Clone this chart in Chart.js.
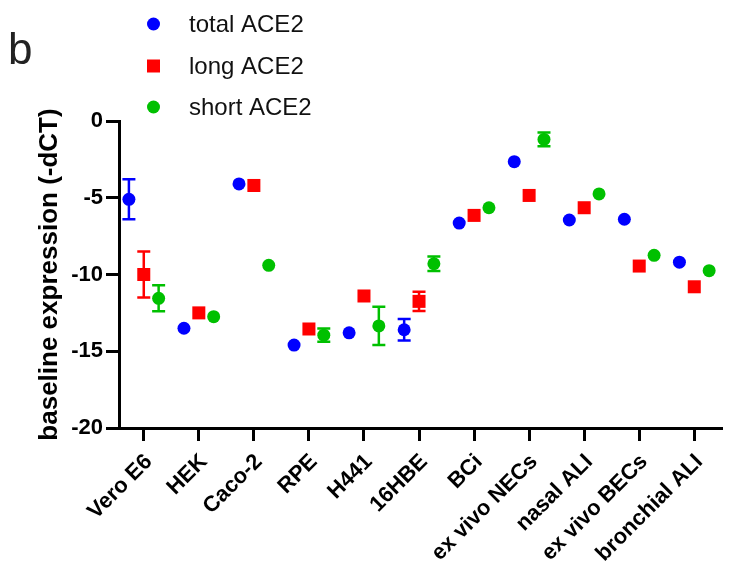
<!DOCTYPE html>
<html><head><meta charset="utf-8">
<script src="https://cdn.jsdelivr.net/npm/chart.js@4"></script>
<style>html,body{margin:0;padding:0;background:#fff;}</style>
</head><body>
<canvas id="c" width="731" height="574"></canvas>
<script>
const categories = ['Vero E6','HEK','Caco-2','RPE','H441','16HBE','BCi','ex vivo NECs','nasal ALI','ex vivo BECs','bronchial ALI'];
const seriesNames = ['total ACE2','long ACE2','short ACE2'];
const totalACE2 = [-5.1,-13.5,-4.1,-14.6,-13.8,-13.6,-6.65,-2.65,-6.45,-6.4,-9.2];
const totalErr  = [1.3,0,0,0,0,0.7,0,0,0,0,0];
const longACE2  = [-10.0,-12.5,-4.2,-13.55,-11.4,-11.75,-6.15,-4.85,-5.65,-9.45,-10.8];
const longErr   = [1.5,0,0,0,0,0.62,0,0,0,0,0];
const shortACE2 = [-11.55,-12.75,-9.4,-13.95,-13.35,-9.3,-5.65,-1.2,-4.75,-8.75,-9.75];
const shortErr  = [0.85,0,0,0.43,1.25,0.48,0,0.45,0,0,0];
const yTicks = [0,-5,-10,-15,-20];

const colors = ['#0000ff','#ff0000','#00c000'];
const shapes = ['circle','rect','circle'];
const radii = [6.5,9.2,6.5];
const dodge = [-0.27,0,0.27];
const values = [totalACE2,longACE2,shortACE2];
const errs = [totalErr,longErr,shortErr];

const datasets = values.map((vals,s)=>({
  label: seriesNames[s],
  data: vals.map((v,i)=>({x:i+dodge[s], y:v, e:errs[s][i]})),
  showLine:false,
  pointStyle: shapes[s],
  pointRadius: radii[s],
  pointHoverRadius: radii[s],
  backgroundColor: colors[s],
  borderColor: colors[s],
  borderWidth: 0,
  clip:false
}));

const errorBars = {
  id:'errorBars',
  beforeDatasetsDraw(chart){
    const ctx=chart.ctx, xs=chart.scales.x, ys=chart.scales.y;
    chart.data.datasets.forEach((ds,s)=>{
      ctx.save();
      ctx.strokeStyle=colors[s]; ctx.lineWidth=2.5;
      ds.data.forEach(p=>{
        if(!p.e) return;
        const x=xs.getPixelForValue(p.x);
        const y1=ys.getPixelForValue(p.y+p.e), y2=ys.getPixelForValue(p.y-p.e);
        ctx.beginPath();
        ctx.moveTo(x,y1); ctx.lineTo(x,y2);
        ctx.moveTo(x-6.5,y1); ctx.lineTo(x+6.5,y1);
        ctx.moveTo(x-6.5,y2); ctx.lineTo(x+6.5,y2);
        ctx.stroke();
      });
      ctx.restore();
    });
  }
};

const customLegend = {
  id:'customLegend',
  afterDraw(chart){
    const ctx=chart.ctx;
    ctx.save();
    ctx.fillStyle='#222';
    ctx.font='44px "Liberation Sans", Arial, sans-serif';
    ctx.textBaseline='alphabetic';
    ctx.fillText('b',8,64);
    const ys=[24,66,107];
    seriesNames.forEach((n,s)=>{
      ctx.fillStyle=colors[s];
      ctx.beginPath();
      if(shapes[s]==='rect'){ ctx.rect(147,ys[s]-6.5,13,13); }
      else { ctx.arc(153.5,ys[s],6.5,0,Math.PI*2); }
      ctx.fill();
      ctx.fillStyle='#111';
      ctx.font='24px "Liberation Sans", Arial, sans-serif';
      ctx.textBaseline='middle';
      ctx.fillText(n,189,ys[s]+1);
    });
    ctx.restore();
  }
};

const tickFont = {family:'"Liberation Sans", Arial, sans-serif', size:22, weight:'bold'};

new Chart(document.getElementById('c'),{
  type:'scatter',
  data:{datasets},
  plugins:[errorBars,customLegend],
  options:{
    responsive:false, animation:false,
    layout:{padding:{top:121,right:6,left:0,bottom:0}},
    plugins:{legend:{display:false},tooltip:{enabled:false}},
    scales:{
      x:{
        type:'linear', min:-0.45, max:10.5,
        afterBuildTicks:s=>{ s.ticks = categories.map((c,i)=>({value:i})); },
        afterFit:s=>{ s.height = 146; },
        ticks:{ callback:(v)=>categories[v], font:tickFont, color:'#000', minRotation:45, maxRotation:45, autoSkip:false, padding:8, labelOffset:5 },
        grid:{ drawOnChartArea:false, drawTicks:true, tickLength:13, lineWidth:3, color:'#000' },
        border:{ display:true, width:3, color:'#000' }
      },
      y:{
        min:-20, max:0,
        afterBuildTicks:s=>{ s.ticks = yTicks.map(v=>({value:v})); },
        afterFit:s=>{ s.width = 119; },
        ticks:{ font:tickFont, color:'#000', padding:3 },
        grid:{ drawOnChartArea:false, drawTicks:true, tickLength:13, lineWidth:3, color:'#000' },
        border:{ display:true, width:3, color:'#000' },
        title:{ display:true, text:'baseline expression (-dCT)', color:'#000', font:{family:'"Liberation Sans", Arial, sans-serif', size:26, weight:'bold'}, padding:{top:34,bottom:4} }
      }
    }
  }
});
</script>
</body></html>
